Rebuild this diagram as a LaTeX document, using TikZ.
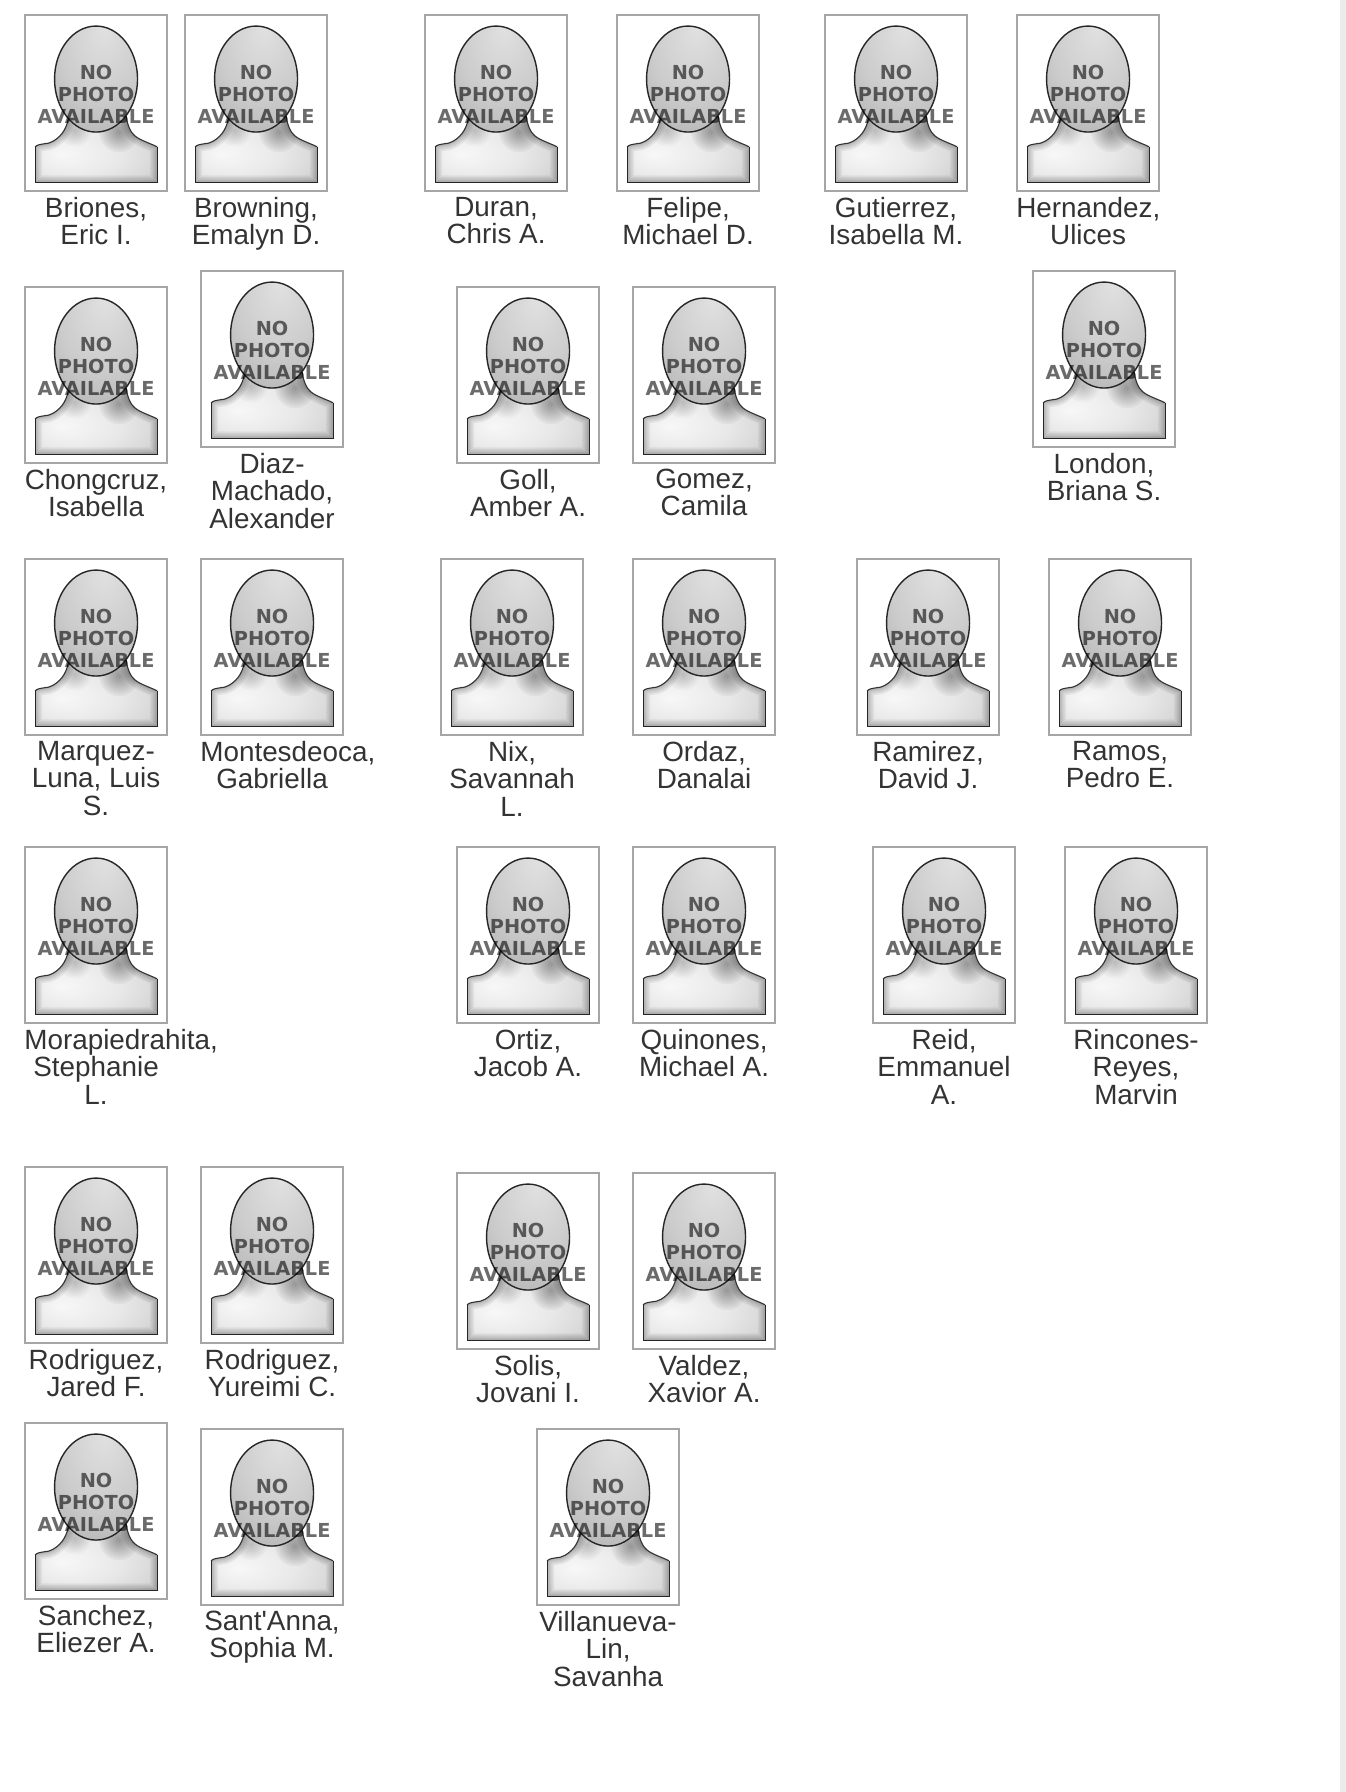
\documentclass[tikz,border=0pt]{standalone}
\usepackage{fontspec}
\newfontfamily\namefont{Liberation Sans}
\newfontfamily\stampfont{DejaVu Sans}
\usetikzlibrary{positioning}

\pgfdeclareradialshading{headball}{\pgfpoint{5bp}{24bp}}{%
    color(0bp)=(black!12); color(25bp)=(black!20); color(50bp)=(black!33); color(78bp)=(black!58)}
\pgfdeclareradialshading{bodyball}{\pgfpoint{-14bp}{-4bp}}{%
    color(0bp)=(black!3); color(20bp)=(black!9); color(44bp)=(black!21); color(72bp)=(black!42)}

\newcommand{\bodyline}{(-61,167) -- (-61,131.5)
    .. controls (-55,127) and (-49,130) .. (-43,126)
    .. controls (-33,120) and (-29,112) .. (-27,100) -- (30,100)
    .. controls (32,114) and (36,120) .. (44,124)
    .. controls (50,127) and (56,129) .. (61,131.5) -- (61,167) -- cycle}
\newcommand{\topstrut}{\rule{0pt}{19.2pt}}

\tikzset{
    photoframe/.style = {draw=black!35, line width=1.9pt, anchor=north west, outer sep=0pt,
        minimum width=141.6pt, minimum height=175.4pt},
    nametag/.style = {anchor=north, inner sep=0pt, text width=143.4pt, align=flush center, text=black!80,
        font=\namefont\fontsize{27.85}{27.43}\selectfont},
    stamp/.style = {inner sep=0pt, align=center, text=black, text opacity=.58,
        font=\fontsize{19.3}{22}\stampfont\bfseries},
    nophoto/.pic = {
        % shoulders, soft edge and the shadow of the chin stay inside the outline
        \shade[shading=bodyball] \bodyline;
        \begin{scope}
            \clip \bodyline;
            \foreach \w in {14,11,8,5,3}
                \draw[black, opacity=.05, line width=\w pt] \bodyline;
            \foreach \r in {2,4,...,20}
                \fill[black, opacity=.035] (23,117) circle [radius=\r];
            \foreach \r in {2,4,...,16}
                \fill[black, opacity=.022] (-21,115) circle [radius=\r];
        \end{scope}
        \draw[black!80, line width=1.1pt] (-61,131.5)
            .. controls (-55,127) and (-49,130) .. (-43,126)
            .. controls (-33,120) and (-29,112) .. (-27,100);
        \draw[black!80, line width=1.1pt] (30,100)
            .. controls (32,114) and (36,120) .. (44,124)
            .. controls (50,127) and (56,129) .. (61,131.5);
        \draw[black!85, line width=1.1pt] (-61,131.5) -- (-61,167) -- (61,167) -- (61,131.5);
        % head
        \shade[shading=headball] (0,63.8) ellipse [x radius=41.5, y radius=53];
        \draw[black!85, line width=1.4pt] (0,63.8) ellipse [x radius=41.5, y radius=53];
        \node[stamp] (-txt) at (0,79.5) {NO\\PHOTO\\AVAILABLE};
    }
}

\begin{document}
\begin{tikzpicture}[x=1pt, y=-1pt]
    \useasboundingbox (0,0) rectangle (1346,1792);
    \fill[black!8] (1340,0) rectangle (1346,1792);

    \foreach \x/\y/\who [count=\i] in {
        25.25/15.25/{Briones,\\Eric I.},
        185.25/15.25/{Browning,\\Emalyn D.},
        425.25/15.25/{Duran,\\Chris A.},
        617.25/15.25/{Felipe,\\Michael D.},
        825.25/15.25/{Gutierrez,\\Isabella M.},
        1017.25/15.25/{Hernandez,\\Ulices},
        25.25/287.25/{Chongcruz,\\Isabella},
        201.25/271.25/{Diaz-\\Machado,\\Alexander},
        457.25/287.25/{Goll,\\Amber A.},
        633.25/287.25/{Gomez,\\Camila},
        1033.25/271.25/{London,\\Briana S.},
        25.25/559.25/{Marquez-\\Luna, Luis\\S.},
        201.25/559.25/{Montesdeoca,\\Gabriella},
        441.25/559.25/{Nix,\\Savannah\\L.},
        633.25/559.25/{Ordaz,\\Danalai},
        857.25/559.25/{Ramirez,\\David J.},
        1049.25/559.25/{Ramos,\\Pedro E.},
        25.25/847.25/{Morapiedrahita,\\Stephanie\\L.},
        457.25/847.25/{Ortiz,\\Jacob A.},
        633.25/847.25/{Quinones,\\Michael A.},
        873.25/847.25/{Reid,\\Emmanuel\\A.},
        1065.25/847.25/{Rincones-\\Reyes,\\Marvin},
        25.25/1167.25/{Rodriguez,\\Jared F.},
        201.25/1167.25/{Rodriguez,\\Yureimi C.},
        457.25/1173.25/{Solis,\\Jovani I.},
        633.25/1173.25/{Valdez,\\Xavior A.},
        25.25/1423.25/{Sanchez,\\Eliezer A.},
        201.25/1429.25/{Sant'Anna,\\Sophia M.},
        537.25/1429.25/{Villanueva-\\Lin,\\Savanha}}
    {
        \node[photoframe] (ph-\i) at (\x,\y) {};
        \pic (art-\i) at (ph-\i.north) {nophoto};
        \node[nametag, below=6.1pt of ph-\i] (who-\i) {\topstrut\who};
    }
\end{tikzpicture}
\end{document}
